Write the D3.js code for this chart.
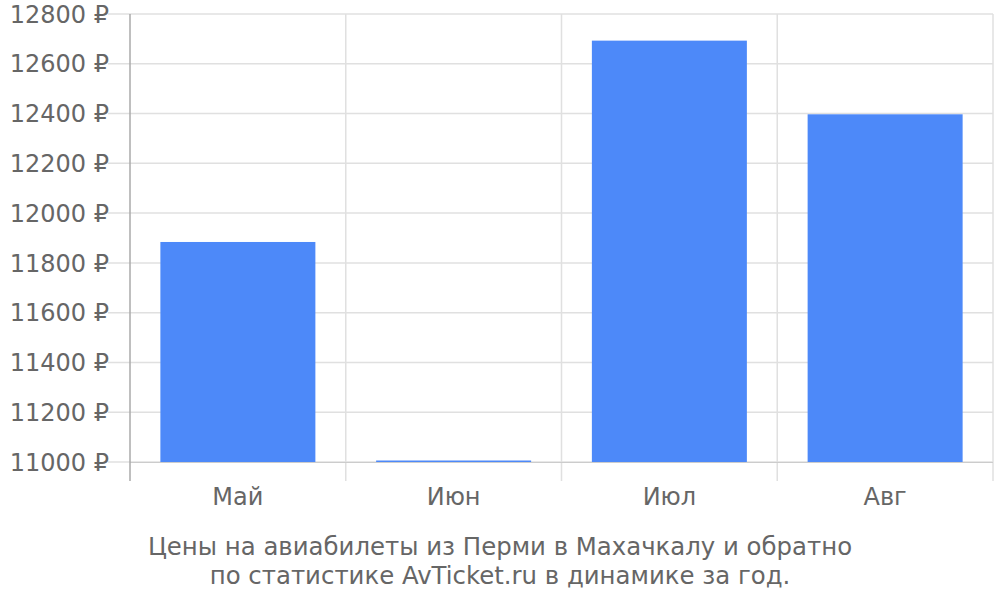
<!DOCTYPE html>
<html><head><meta charset="utf-8">
<script src="https://cdn.jsdelivr.net/npm/d3@7"></script>
<style>body{margin:0;background:#fff}svg{display:block}text{font-family:"DejaVu Sans",sans-serif;fill:#666}</style>
</head><body>
<svg id="c" width="1000" height="600"></svg>
<script>
const categories = ["Май", "Июн", "Июл", "Авг"];
const prices = [11884, 11006, 12693, 12397];
const yTicks = [11000, 11200, 11400, 11600, 11800, 12000, 12200, 12400, 12600, 12800];
const titleLines = ["Цены на авиабилеты из Перми в Махачкалу и обратно", "по статистике AvTicket.ru в динамике за год."];

const svg = d3.select("#c");
const L = 130, R = 993, T = 14, B = 462;
const x = d3.scaleBand().domain(categories).range([L, R]).paddingInner(0).paddingOuter(0);
const y = d3.scaleLinear().domain([11000, 12800]).range([B, T]);

// horizontal grid
svg.append("g").selectAll("line").data(yTicks).join("line")
  .attr("x1", L - 22).attr("x2", R).attr("y1", d => y(d)).attr("y2", d => y(d))
  .attr("stroke", "#e0e0e0").attr("stroke-width", 1.5);
// vertical grid at band boundaries
const bounds = categories.map(c => x(c)).concat([R]);
svg.append("g").selectAll("line").data(bounds.slice(1)).join("line")
  .attr("x1", d => d).attr("x2", d => d).attr("y1", T).attr("y2", B + 19)
  .attr("stroke", "#e0e0e0").attr("stroke-width", 1.5);

// bars
const bw = 155;
svg.append("g").selectAll("rect").data(categories).join("rect")
  .attr("x", d => x(d) + (x.bandwidth() - bw) / 2)
  .attr("width", bw)
  .attr("y", (d, i) => y(prices[i]))
  .attr("height", (d, i) => B - y(prices[i]))
  .attr("fill", "#4d89f9");

// x axis baseline
svg.append("line").attr("x1", L).attr("x2", R).attr("y1", B + 0.5).attr("y2", B + 0.5)
  .attr("stroke", "#ccc").attr("stroke-width", 1.2);
// y axis line
svg.append("line").attr("x1", L).attr("x2", L).attr("y1", T).attr("y2", B + 19)
  .attr("stroke", "#aaa").attr("stroke-width", 1.5);

// y labels
svg.append("g").selectAll("text").data(yTicks).join("text")
  .attr("x", L - 21).attr("y", d => y(d)).attr("dy", "0.36em")
  .attr("text-anchor", "end").attr("font-size", 24)
  .text(d => d + " ₽");

// x labels
svg.append("g").selectAll("text").data(categories).join("text")
  .attr("x", d => x(d) + x.bandwidth() / 2).attr("y", 505)
  .attr("text-anchor", "middle").attr("font-size", 24)
  .text(d => d);

// title
svg.append("g").selectAll("text").data(titleLines).join("text")
  .attr("x", 500).attr("y", (d, i) => 555 + i * 29)
  .attr("text-anchor", "middle").attr("font-size", 24.4)
  .text(d => d);
</script>
</body></html>
